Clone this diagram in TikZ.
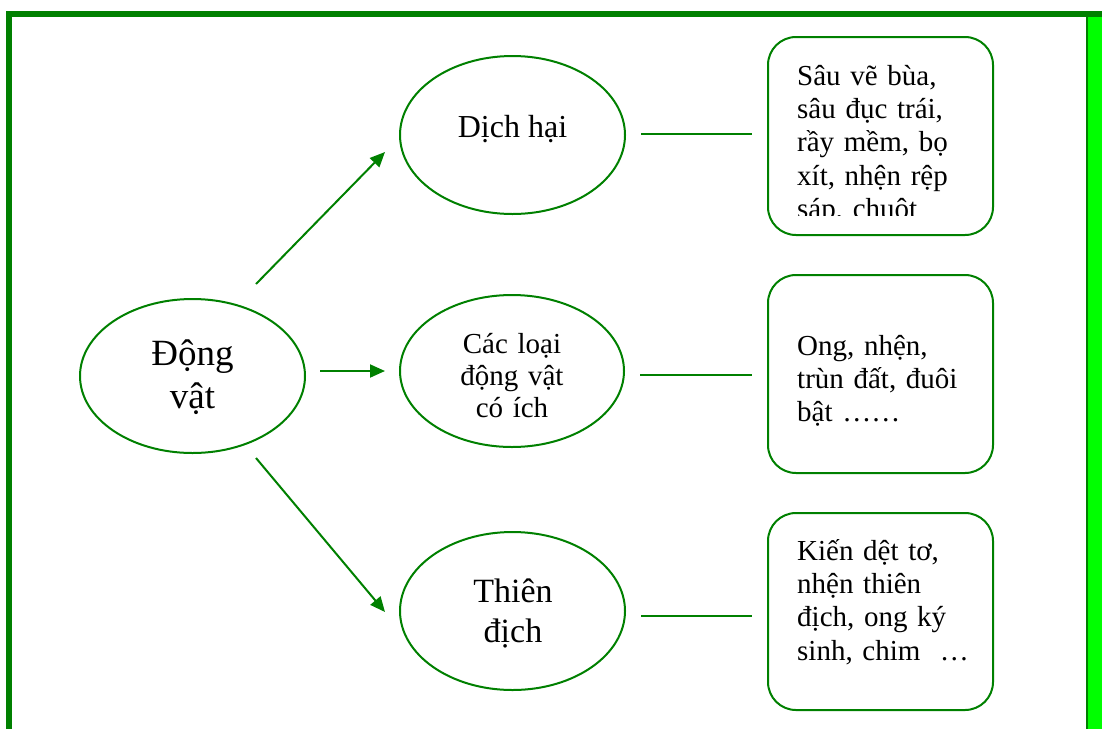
\documentclass[tikz,border=0pt]{standalone}
\usepackage{fontspec}
\setmainfont{Liberation Serif}
\usetikzlibrary{shapes.geometric,arrows.meta}
\definecolor{dg}{RGB}{0,128,0}
\definecolor{lg}{RGB}{0,255,0}
\begin{document}
\begin{tikzpicture}[x=1pt,y=-1pt,
  oval/.style={draw=dg,line width=2pt,ellipse,inner sep=0pt},
  rbox/.style={draw=dg,line width=2pt,rounded corners=28pt,inner sep=0pt,minimum width=225pt},
  txt/.style={inner sep=0pt,anchor=base,align=center},
  ltxt/.style={inner sep=0pt,anchor=base west,align=left,text width=190pt,font=\fontsize{29}{33.4}\selectfont},
  arr/.style={draw=dg,line width=2pt,-{Triangle[length=15pt,width=13pt]}},
  link/.style={draw=dg,line width=2pt,shorten <=15pt,shorten >=15pt}]
\useasboundingbox (0,0) rectangle (1102,729);
% frame
\fill[dg] (6,11) rectangle (1102,17);
\fill[dg] (6,11) rectangle (12,729);
\fill[dg] (1086,17) rectangle (1088,729);
\fill[lg] (1088,17) rectangle (1102,729);
% ellipses
\node[oval,minimum width=225pt,minimum height=154pt] (e0) at (192.5,376) {};
\node[oval,minimum width=225pt,minimum height=158pt] (e1) at (512.5,135) {};
\node[oval,minimum width=224pt,minimum height=152pt] (e2) at (512,371) {};
\node[oval,minimum width=225pt,minimum height=158pt] (e3) at (512.5,611) {};
% ellipse texts
\node[txt,text width=160pt,font=\fontsize{37}{43}\selectfont] (t0) at (192.5,365) {Động\\vật};
\node[txt,font=\fontsize{32}{37}\selectfont] (t1) at (512.5,137) {Dịch hại};
\begin{scope}
\clip (400,295) rectangle (625,417);
\node[txt,text width=180pt,font=\fontsize{29}{32}\selectfont] (t2) at (512,353) {Các loại\\động vật\\có ích};
\end{scope}
\node[txt,text width=160pt,font=\fontsize{34}{40}\selectfont] (t3) at (513,602) {Thiên\\địch};
% boxes
\node[rbox,minimum height=198pt] (b1) at (880.5,136) {};
\node[rbox,minimum height=198pt] (b2) at (880.5,374) {};
\node[rbox,minimum height=197pt] (b3) at (880.5,611.5) {};
\begin{scope}
\clip (768,37) rectangle (993,215);
\node[ltxt] (s1) at (797,85) {Sâu vẽ bùa,\\sâu đục trái,\\rầy mềm, bọ\\xít, nhện rệp\\sáp, chuột};
\end{scope}
\node[ltxt] (s2) at (797,355) {Ong, nhện,\\trùn đất, đuôi\\bật ……};
\node[ltxt] (s3) at (797,560) {Kiến dệt tơ,\\nhện thiên\\địch, ong ký\\sinh, chim~ …};
% arrows
\coordinate (a1s) at (256,284);
\coordinate (a1e) at (385,152);
\coordinate (a2s) at (320,371);
\coordinate (a2e) at (385,371);
\coordinate (a3s) at (256,458);
\coordinate (a3e) at (385,612);
\draw[arr] (a1s) -- (a1e);
\draw[arr] (a2s) -- (a2e);
\draw[arr] (a3s) -- (a3e);
% links
\draw[link] ([yshift=1pt]e1.east) -- ([yshift=2pt]b1.west);
\draw[link] ([yshift=-4pt]e2.east) -- ([yshift=-1pt]b2.west);
\draw[link] ([yshift=-5pt]e3.east) -- ([yshift=-4.5pt]b3.west);
\end{tikzpicture}
\end{document}
